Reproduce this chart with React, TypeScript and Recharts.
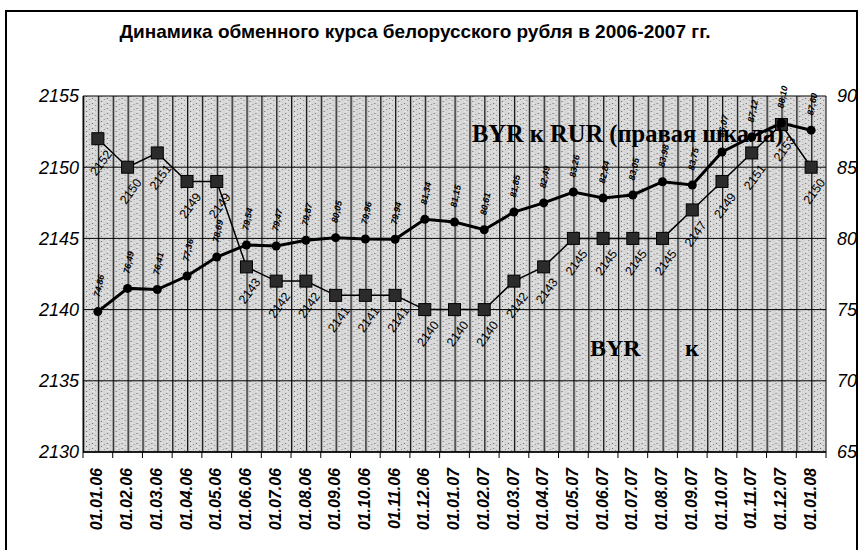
import { LineChart, Line, XAxis, YAxis, CartesianGrid, LabelList } from 'recharts';

const dates = [
  '01.01.06', '01.02.06', '01.03.06', '01.04.06', '01.05.06', '01.06.06', '01.07.06',
  '01.08.06', '01.09.06', '01.10.06', '01.11.06', '01.12.06', '01.01.07', '01.02.07',
  '01.03.07', '01.04.07', '01.05.07', '01.06.07', '01.07.07', '01.08.07', '01.09.07',
  '01.10.07', '01.11.07', '01.12.07', '01.01.08',
];
// BYR за 1 USD (левая шкала)
const byrUsd = [
  2152, 2150, 2151, 2149, 2149, 2143, 2142, 2142, 2141, 2141, 2141, 2140, 2140,
  2140, 2142, 2143, 2145, 2145, 2145, 2145, 2147, 2149, 2151, 2153, 2150,
];
// BYR за 1 RUR (правая шкала)
const byrRur = [
  74.86, 76.49, 76.41, 77.36, 78.69, 79.54, 79.47, 79.87, 80.05, 79.96, 79.94, 81.34, 81.15,
  80.61, 81.85, 82.49, 83.26, 82.84, 83.05, 83.98, 83.75, 86.07, 87.12, 88.1, 87.6,
];
const leftTicks = [2130, 2135, 2140, 2145, 2150, 2155];
const rightTicks = [65, 70, 75, 80, 85, 90];

const data = dates.map((d, i) => ({ date: d, usd: byrUsd[i], rur: byrRur[i] }));

const W = 865;
const H = 550;
const PLOT_LEFT = 83;
const PLOT_RIGHT = 826;
const HALF = (PLOT_RIGHT - PLOT_LEFT) / dates.length / 2;

const SANS = '"Liberation Sans", Arial, sans-serif';
const SERIF = '"Liberation Serif", "Times New Roman", serif';

const XTick = (props: any) => {
  const { x, y, payload, index } = props;
  return (
    <g>
      <line x1={x - HALF} x2={x - HALF} y1={y} y2={y + 6} stroke="#000" />
      {index === dates.length - 1 && (
        <line x1={x + HALF} x2={x + HALF} y1={y} y2={y + 6} stroke="#000" />
      )}
      <text
        transform={`translate(${x - 1},${y + 16}) rotate(-90)`}
        textAnchor="end"
        dy="0.35em"
        fontFamily={SANS}
        fontSize={16}
        fontWeight="bold"
        fontStyle="italic"
        fill="#000"
      >
        {payload.value}
      </text>
    </g>
  );
};

const UsdDot = (props: any) => {
  const { cx, cy, index } = props;
  return (
    <rect key={`u${index}`} x={cx - 6} y={cy - 6} width={12} height={12} fill="#2b2b2b" stroke="#000" strokeWidth={1} />
  );
};

const RurDot = (props: any) => {
  const { cx, cy, index } = props;
  return <circle key={`r${index}`} cx={cx} cy={cy} r={4.5} fill="#000" />;
};

const usdLabel = (props: any) => {
  const { x, y, value } = props;
  return (
    <text
      transform={`translate(${x + 3},${y + 24}) rotate(-54)`}
      textAnchor="middle"
      dy="0.35em"
      fontFamily={SANS}
      fontSize={12.5}
      fill="#000"
    >
      {value}
    </text>
  );
};

const rurLabel = (props: any) => {
  const { x, y, value } = props;
  return (
    <text
      transform={`translate(${x + 1},${y - 26}) rotate(-78)`}
      textAnchor="middle"
      dy="0.35em"
      fontFamily={SANS}
      fontSize={9}
      fontWeight="bold"
      fontStyle="italic"
      fill="#000"
    >
      {Number(value).toFixed(2).replace('.', ',')}
    </text>
  );
};

export default function App() {
  return (
    <div style={{ position: 'absolute', left: 0, top: 0, width: W, height: H, background: '#fff', overflow: 'hidden' }}>
      <svg width={0} height={0} style={{ position: 'absolute' }}>
        <defs>
          <pattern id="plotbg" patternUnits="userSpaceOnUse" x={PLOT_LEFT} y={0} width={HALF} height={5}>
            <rect x={0} y={0} width={HALF} height={5} fill="#d8d8d8" />
            <rect x={3} y={1} width={1} height={1} fill="#666" />
            <rect x={9} y={3} width={1} height={1} fill="#666" />
            <rect x={6} y={4} width={1} height={1} fill="#888" />
            <rect x={12} y={0} width={1} height={1} fill="#888" />
            <rect x={4} y={3} width={1} height={1} fill="#f4f4f4" />
            <rect x={10} y={1} width={1} height={1} fill="#f4f4f4" />
            <rect x={0} y={0} width={1.3} height={5} fill="#111" />
          </pattern>
        </defs>
      </svg>
      <div
        style={{
          position: 'absolute', left: 5, top: 10, width: 853, height: 545,
          border: '2px solid #000', boxSizing: 'border-box',
        }}
      />
      <div
        style={{
          position: 'absolute', left: 0, top: 20, width: 830, textAlign: 'center',
          fontFamily: SANS, fontWeight: 'bold', fontSize: 19, lineHeight: '24px', color: '#000',
        }}
      >
        Динамика обменного курса белорусского рубля в 2006-2007 гг.
      </div>
      <div style={{ position: 'absolute', left: 0, top: 0 }}>
        <LineChart width={W} height={H} data={data} margin={{ top: 96, right: 4, left: 8, bottom: 8 }}>
          <CartesianGrid
            yAxisId="left"
            vertical={false}
            stroke="#000"
            strokeWidth={1}
            fill="url(#plotbg)"
            fillOpacity={1}
          />
          <XAxis
            dataKey="date"
            interval={0}
            padding={{ left: HALF, right: HALF }}
            height={90}
            tickSize={0}
            tickMargin={0}
            axisLine={{ stroke: '#000', strokeWidth: 1.5 }}
            tickLine={false}
            tick={<XTick />}
          />
          <YAxis
            yAxisId="left"
            domain={[2130, 2155]}
            ticks={leftTicks}
            width={75}
            tickSize={0}
            tickMargin={4}
            axisLine={{ stroke: '#000' }}
            tickLine={false}
            tick={{ fill: '#000', fontSize: 18, fontStyle: 'italic', fontFamily: SANS }}
          />
          <YAxis
            yAxisId="right"
            orientation="right"
            domain={[65, 90]}
            ticks={rightTicks}
            width={35}
            tickSize={0}
            tickMargin={11}
            axisLine={{ stroke: '#000' }}
            tickLine={false}
            tick={{ fill: '#000', fontSize: 18, fontStyle: 'italic', fontFamily: SANS }}
          />
          <Line
            yAxisId="left"
            dataKey="usd"
            stroke="#000"
            strokeWidth={1.5}
            dot={UsdDot}
            isAnimationActive={false}
          >
            <LabelList dataKey="usd" content={usdLabel} />
          </Line>
          <Line
            yAxisId="right"
            dataKey="rur"
            stroke="#000"
            strokeWidth={3}
            dot={RurDot}
            isAnimationActive={false}
          >
            <LabelList dataKey="rur" content={rurLabel} />
          </Line>
        </LineChart>
      </div>
      <div style={{ position: 'absolute', left: 472, top: 120, fontFamily: SERIF, fontWeight: 'bold', fontSize: 24.5, lineHeight: '28px', color: '#000', whiteSpace: 'nowrap' }}>
        BYR к RUR (правая шкала)
      </div>
      <div style={{ position: 'absolute', left: 590, top: 334, fontFamily: SERIF, fontWeight: 'bold', fontSize: 24, lineHeight: '28px', color: '#000' }}>
        BYR
      </div>
      <div style={{ position: 'absolute', left: 685, top: 334, fontFamily: SERIF, fontWeight: 'bold', fontSize: 24, lineHeight: '28px', color: '#000' }}>
        к
      </div>
    </div>
  );
}
